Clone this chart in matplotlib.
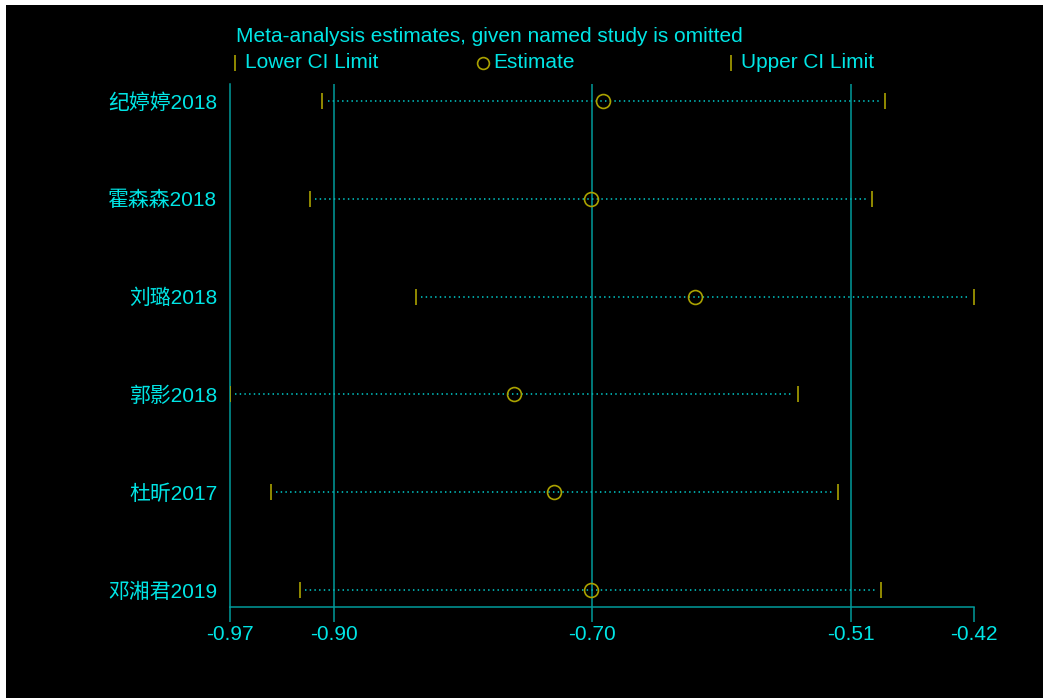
import matplotlib
matplotlib.use("Agg")
import matplotlib.pyplot as plt
from matplotlib.lines import Line2D
from matplotlib.patches import Rectangle

# ── Data (leave-one-out meta-analysis) ─────────────────────────────────────
STUDIES = ["纪婷婷2018", "霍森森2018", "刘璐2018", "郭影2018", "杜昕2017", "邓湘君2019"]
LOWER = [-0.9056, -0.9150, -0.8357, -0.9745, -0.9441, -0.9225]
ESTIMATE = [-0.6959, -0.7051, -0.6275, -0.7626, -0.7325, -0.7053]
UPPER = [-0.4857, -0.4949, -0.4191, -0.5504, -0.5205, -0.4887]

# overall estimate with CI (reference lines)
OVERALL = [-0.8971, -0.7041, -0.5111]
TICK_VALUES = [min(LOWER)] + OVERALL + [max(UPPER)]
TICK_LABELS = ["-0.97", "-0.90", "-0.70", "-0.51", "-0.42"]

TITLE = "Meta-analysis estimates, given named study is omitted"
LEGEND_LABELS = ["Lower CI Limit", "Estimate", "Upper CI Limit"]

# ── Style ─────────────────────────────────────────────────────────────────
TEAL = "#009a9a"
CYAN = "#00e5e5"
OLIVE = "#aaa200"
FONT = ["Liberation Sans", "Noto Sans CJK SC", "DejaVu Sans"]
plt.rcParams["font.family"] = FONT

W, H = 1043, 698
fig = plt.figure(figsize=(W / 100, H / 100), dpi=100, facecolor="white")
fig.add_artist(Rectangle((6 / W, 0), 1 - 6 / W, 1 - 5 / H, transform=fig.transFigure,
                         facecolor="black", edgecolor="none", zorder=0))

ax = fig.add_axes([230 / W, (H - 607) / H, (974 - 230) / W, (607 - 84) / H])
ax.set_facecolor("black")

ys = list(range(1, len(STUDIES) + 1))
for x in OVERALL:
    ax.axvline(x, color=TEAL, lw=1.1, zorder=1)

for y, lo, est, hi in zip(ys, LOWER, ESTIMATE, UPPER):
    ax.plot([lo + 0.004, hi - 0.004], [y, y], color="#00b0b0", lw=1.3,
            ls=(0, (0.8, 1.8)), zorder=2)
    ax.plot([lo, hi], [y, y], ls="none", marker="|", ms=11, mew=1.2,
            color=OLIVE, zorder=3)
    ax.plot([est], [y], ls="none", marker="o", ms=10, mew=1.2,
            mfc="none", mec=OLIVE, zorder=4)

ax.set_xlim(min(LOWER), max(UPPER))
ax.set_ylim(len(STUDIES) + 0.174, 1 - 0.174)

ax.set_xticks(TICK_VALUES)
ax.set_xticklabels(TICK_LABELS)
ax.set_yticks(ys)
ax.set_yticklabels(STUDIES)
ax.tick_params(axis="x", colors=TEAL, length=11, width=1.1, labelcolor=CYAN,
               labelsize=15, pad=2)
ax.tick_params(axis="y", length=0, labelcolor=CYAN, labelsize=15, pad=9)

for side in ["top", "right"]:
    ax.spines[side].set_visible(False)
for side in ["left", "bottom"]:
    ax.spines[side].set_color(TEAL)
    ax.spines[side].set_linewidth(1.1)

# ── Header / legend ───────────────────────────────────────────────────────
fig.text(236 / W, 1 - 36 / H, TITLE, color=CYAN, fontsize=15, va="center", ha="left")
legend_y = 1 - 63 / H
key_x = [235, 483, 731]
key_markers = ["|", "o", "|"]
for kx, mk, label in zip(key_x, key_markers, LEGEND_LABELS):
    size = 8.5 if mk == "o" else 11
    fig.add_artist(Line2D([kx / W], [legend_y], transform=fig.transFigure,
                          ls="none", marker=mk, ms=size, mew=1.2, mfc="none",
                          mec=OLIVE, color=OLIVE))
    fig.text((kx + 10) / W, legend_y, label, color=CYAN, fontsize=15,
             va="center", ha="left")

fig.savefig("out.png", dpi=100, facecolor=fig.get_facecolor())
